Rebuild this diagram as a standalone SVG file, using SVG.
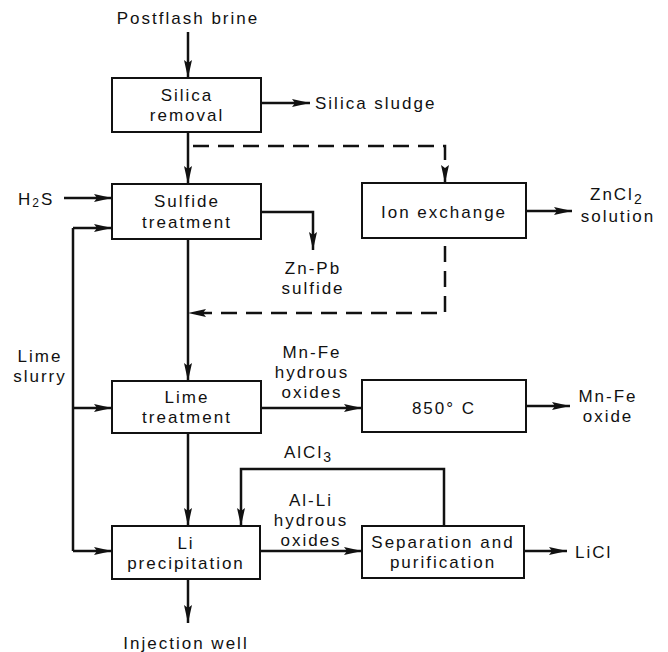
<svg xmlns="http://www.w3.org/2000/svg" width="668" height="652" viewBox="0 0 668 652">
<style>
.box{fill:#fff;stroke:#111;stroke-width:2}
.ln{fill:none;stroke:#111;stroke-width:2.5}
.dash{fill:none;stroke:#111;stroke-width:2.5;stroke-dasharray:16 9}
text{font-family:"Liberation Sans",Arial,sans-serif;font-size:17px;letter-spacing:2px;fill:#111;text-anchor:middle;dominant-baseline:central}
.l{text-anchor:start}
</style>
<defs>
<marker id="ah" markerUnits="userSpaceOnUse" markerWidth="19" markerHeight="10" refX="18" refY="4" orient="auto">
<path d="M0,0 L18,4 L0,8 L3,4 z" fill="#111"/>
</marker>
</defs>
<rect width="668" height="652" fill="#fff"/>
<g id="connectors">
<path class="ln" d="M188,32 V78" marker-end="url(#ah)"/>
<path class="ln" d="M261,103 H310" marker-end="url(#ah)"/>
<path class="ln" d="M188,132 V184" marker-end="url(#ah)"/>
<path class="dash" d="M193,146 H445 V183" marker-end="url(#ah)"/>
<path class="ln" d="M64,198 H112" marker-end="url(#ah)"/>
<path class="ln" d="M526,211 H572" marker-end="url(#ah)"/>
<path class="ln" d="M261,212 H313 V250" marker-end="url(#ah)"/>
<path class="dash" d="M445,246 V313 H188" marker-end="url(#ah)"/>
<path class="ln" d="M188,239 V381" marker-end="url(#ah)"/>
<path class="ln" d="M73,228 V551"/>
<path class="ln" d="M73,228 H112" marker-end="url(#ah)"/>
<path class="ln" d="M73,408 H112" marker-end="url(#ah)"/>
<path class="ln" d="M73,551 H112" marker-end="url(#ah)"/>
<path class="ln" d="M261,408 H362" marker-end="url(#ah)"/>
<path class="ln" d="M526,406 H570" marker-end="url(#ah)"/>
<path class="ln" d="M188,433 V526" marker-end="url(#ah)"/>
<path class="ln" d="M444,526 V469 H241 V526" marker-end="url(#ah)"/>
<path class="ln" d="M260,551 H362" marker-end="url(#ah)"/>
<path class="ln" d="M524,551 H567" marker-end="url(#ah)"/>
<path class="ln" d="M188,579 V623" marker-end="url(#ah)"/>
</g>
<g id="labels">
<text x="188" y="18">Postflash brine</text>
<text class="l" x="315" y="103">Silica sludge</text>
<text class="l" x="18" y="199">H<tspan font-size="12" dy="4">2</tspan><tspan dy="-4">S</tspan></text>
<text x="313" y="268">Zn-Pb</text>
<text x="313" y="288">sulfide</text>
<text class="l" x="590" y="194">ZnCl<tspan font-size="14" dy="5">2</tspan></text>
<text x="618" y="216">solution</text>
<text x="40" y="356">Lime</text>
<text x="40" y="376">slurry</text>
<text x="312" y="352">Mn-Fe</text>
<text x="312" y="372">hydrous</text>
<text x="312" y="392">oxides</text>
<text x="608" y="396">Mn-Fe</text>
<text x="608" y="416">oxide</text>
<text class="l" x="284" y="452">AlCl<tspan font-size="14" dy="5">3</tspan></text>
<text x="311" y="500">Al-Li</text>
<text x="311" y="520">hydrous</text>
<text x="311" y="540">oxides</text>
<text class="l" x="575" y="552">LiCl</text>
<text x="186" y="643">Injection well</text>
</g>
<g id="silica-removal">
<rect class="box" x="112" y="78" width="149" height="54"/>
<text x="187" y="95">Silica</text>
<text x="187" y="115">removal</text>
</g>
<g id="sulfide-treatment">
<rect class="box" x="112" y="184" width="149" height="55"/>
<text x="187" y="201">Sulfide</text>
<text x="187" y="222">treatment</text>
</g>
<g id="ion-exchange">
<rect class="box" x="362" y="183" width="164" height="55"/>
<text x="444" y="212">Ion exchange</text>
</g>
<g id="lime-treatment">
<rect class="box" x="112" y="381" width="149" height="52"/>
<text x="187" y="397">Lime</text>
<text x="187" y="417">treatment</text>
</g>
<g id="furnace-850">
<rect class="box" x="362" y="380" width="164" height="52"/>
<text x="444" y="408">850° C</text>
</g>
<g id="li-precipitation">
<rect class="box" x="112" y="526" width="148" height="53"/>
<text x="186" y="543">Li</text>
<text x="186" y="563">precipitation</text>
</g>
<g id="separation-purification">
<rect class="box" x="362" y="526" width="162" height="52"/>
<text x="443" y="542">Separation and</text>
<text x="443" y="562">purification</text>
</g>
</svg>
